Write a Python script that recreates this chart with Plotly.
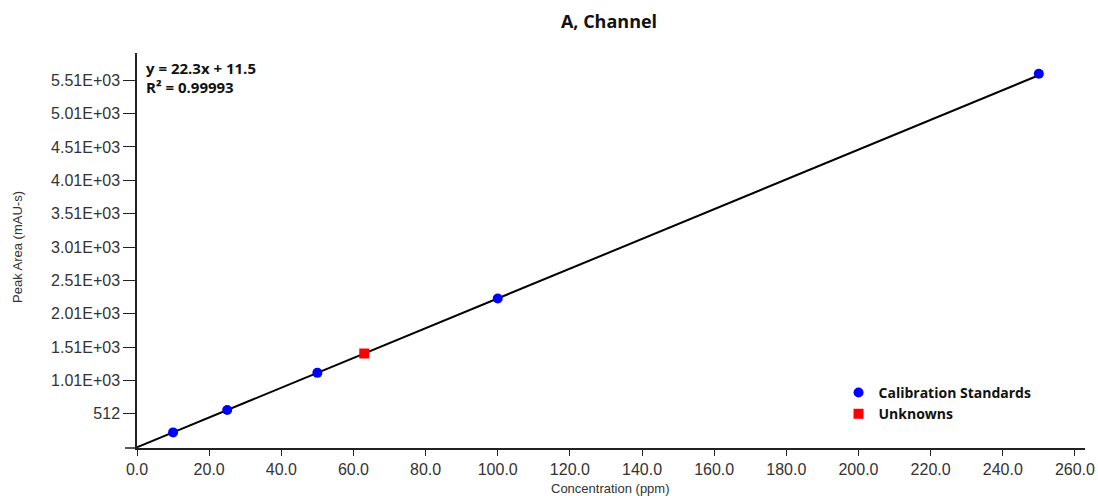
import plotly.graph_objects as go

# data
std_x = [10.0, 25.0, 50.0, 100.0, 250.0]
std_y = [234.0, 569.0, 1126.0, 2241.0, 5610.0]
unk_x = [63.0]
unk_y = [1416.0]
slope = 22.3
intercept = 11.5
fit_x = [0.0, 250.0]
fit_y = [slope * v + intercept for v in fit_x]

x_ticks = [0, 20, 40, 60, 80, 100, 120, 140, 160, 180, 200, 220, 240, 260]
x_labels = [f"{v:.1f}" for v in x_ticks]
y_ticks = [512, 1012, 1512, 2012, 2512, 3012, 3512, 4012, 4512, 5012, 5512]
y_labels = ["512", "1.01E+03", "1.51E+03", "2.01E+03", "2.51E+03", "3.01E+03",
            "3.51E+03", "4.01E+03", "4.51E+03", "5.01E+03", "5.51E+03"]

W, H = 1098, 496
L, T, PW, PH = 137, 53, 948, 395

fig = go.Figure()
fig.add_trace(go.Scatter(x=fit_x, y=fit_y, mode="lines",
                         line=dict(color="black", width=2), showlegend=False,
                         hoverinfo="skip"))
fig.add_trace(go.Scatter(x=std_x, y=std_y, mode="markers", name="Calibration Standards",
                         marker=dict(color="#0000ff", size=10, symbol="circle")))
fig.add_trace(go.Scatter(x=unk_x, y=unk_y, mode="markers", name="Unknowns",
                         marker=dict(color="#ff0000", size=10, symbol="square")))

fig.update_layout(
    width=W, height=H,
    margin=dict(l=L, r=W - L - PW, t=T, b=H - T - PH, autoexpand=False),
    paper_bgcolor="white", plot_bgcolor="white",
    title=dict(text="<b>A, Channel</b>", x=(L + PW / 2 - 2) / W, xanchor="center", xref="container",
               yref="container", y=1 - 22 / H, yanchor="middle",
               font=dict(family="Open Sans", size=18, color="#111")),
    font=dict(family="Liberation Sans, Arial", color="#333"),
    showlegend=True,
    legend=dict(x=0.74, y=0.18, xanchor="left", yanchor="top",
                font=dict(family="Open Sans", size=14, color="#111", weight="bold"),
                bgcolor="rgba(0,0,0,0)", itemwidth=30),
    xaxis=dict(range=[0, 262.8], tickvals=x_ticks, ticktext=x_labels, automargin=False,
               showgrid=False, zeroline=False, showline=True, linecolor="#222", linewidth=1.5,
               ticks="outside", ticklen=6, tickcolor="#222", tickwidth=1,
               tickfont=dict(size=16, color="#333")),
    yaxis=dict(range=[0, 5920], tickvals=y_ticks, ticktext=y_labels, automargin=False,
               showgrid=False, zeroline=False, showline=True, linecolor="#222", linewidth=1.5,
               ticks="outside", ticklen=12, tickcolor="#222", tickwidth=1,
               tickfont=dict(size=16, color="#333")),
)

fig.add_shape(type="line", xref="paper", yref="paper", x0=-12 / PW, x1=0, y0=0, y1=0,
              line=dict(color="#222", width=1.5))

# axis titles
fig.add_annotation(xref="paper", yref="paper", x=(610 - L) / PW, y=-(488 - T - PH) / PH,
                   xanchor="center", yanchor="middle", text="Concentration (ppm)", showarrow=False,
                   font=dict(family="Liberation Sans, Arial", size=13, color="#333"))
fig.add_annotation(xref="paper", yref="paper", x=-(L - 18) / PW, y=1 - (247 - T) / PH,
                   xanchor="center", yanchor="middle", text="Peak Area (mAU-s)", showarrow=False,
                   textangle=-90,
                   font=dict(family="Liberation Sans, Arial", size=13, color="#333"))

# regression text
fig.add_annotation(xref="paper", yref="paper", x=7 / PW, y=1 - (68 - T) / PH, xanchor="left",
                   yanchor="middle", text="<b>y = 22.3x + 11.5</b>", showarrow=False, align="left",
                   font=dict(family="Open Sans", size=15, color="#111"))
fig.add_annotation(xref="paper", yref="paper", x=7 / PW, y=1 - (87 - T) / PH, xanchor="left",
                   yanchor="middle", text="<b>R² = 0.99993</b>", showarrow=False, align="left",
                   font=dict(family="Open Sans", size=15, color="#111"))

fig.write_html("out.html", config={"displayModeBar": False},
               post_script="document.body.style.margin='0';document.body.style.overflow='hidden';")
